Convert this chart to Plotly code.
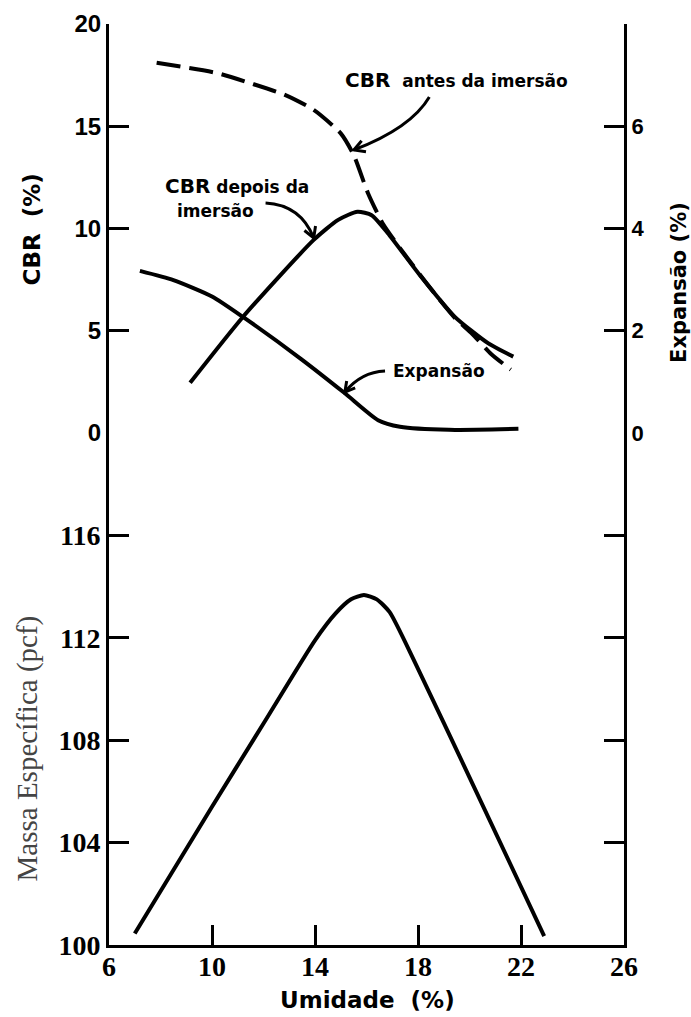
import plotly.graph_objects as go

# ---------------- data ----------------
x_ticks = [6, 10, 14, 18, 22, 26]
x_top_ticks = [10, 14, 18, 22]
cbr_ticks = [0, 5, 10, 15, 20]
exp_ticks = [0, 2, 4, 6]
dens_ticks = [100, 104, 108, 112, 116]

# Massa específica (pcf) vs umidade (%)
x_dens = [7.0, 10.0, 12.0, 14.0, 14.8, 15.4, 15.9, 16.4, 16.9, 17.9, 20.0, 22.9]
dens = [100.45, 105.4, 108.65, 111.9, 112.95, 113.5, 113.67, 113.5, 113.0, 111.0, 106.55, 100.35]

# CBR depois da imersão
x_depois = [9.15, 11.2, 13.95, 14.9, 15.65, 16.2, 16.83, 18.12, 19.42, 20.72, 21.7]
cbr_depois = [2.45, 5.67, 9.44, 10.42, 10.82, 10.65, 9.77, 7.64, 5.69, 4.39, 3.73]

# CBR antes da imersão (dashed)
x_antes = [7.85, 10.2, 11.5, 12.8, 13.95, 15.0, 15.5, 16.05, 16.65, 17.5, 18.5, 19.45, 20.1, 20.85, 21.6]
cbr_antes = [18.1, 17.6, 17.1, 16.55, 15.8, 14.65, 13.6, 11.75, 10.2, 8.7, 7.05, 5.6, 4.85, 3.85, 3.1]

# Expansão (%)
x_exp = [7.2, 8.5, 10.0, 11.2, 13.45, 15.15, 16.45, 17.3, 19.2, 21.9]
expansao = [3.17, 2.99, 2.67, 2.27, 1.45, 0.78, 0.25, 0.12, 0.06, 0.08]

# ---------------- figure ----------------
LW = 4
SM = 0.6
fig = go.Figure()
fig.add_trace(go.Scatter(x=x_dens, y=dens, mode="lines", xaxis="x", yaxis="y",
                         line=dict(color="black", width=LW, shape="spline", smoothing=SM)))
fig.add_trace(go.Scatter(x=x_depois, y=cbr_depois, mode="lines", xaxis="x", yaxis="y2",
                         line=dict(color="black", width=LW, shape="spline", smoothing=SM)))
fig.add_trace(go.Scatter(x=x_antes, y=cbr_antes, mode="lines", xaxis="x", yaxis="y2",
                         line=dict(color="black", width=LW, shape="spline", smoothing=SM,
                                   dash="24px,9px")))
fig.add_trace(go.Scatter(x=x_exp, y=expansao, mode="lines", xaxis="x", yaxis="y3",
                         line=dict(color="black", width=LW, shape="spline", smoothing=SM)))

split = 0.556
axis_common = dict(showgrid=False, zeroline=False, showline=True, linecolor="black",
                   linewidth=3, ticks="inside", ticklen=20, tickwidth=3, tickcolor="black",
                   automargin=False)

serif_tick = dict(family="Liberation Serif", size=28, color="black", weight="bold")
sans_tick = dict(family="Liberation Sans", size=24, color="black", weight="bold")

fig.update_layout(
    width=691, height=1017,
    margin=dict(l=109, r=67, t=24, b=72, autoexpand=False),
    paper_bgcolor="white", plot_bgcolor="white",
    showlegend=False,
    xaxis=dict(domain=[0, 1], anchor="y", range=[6, 26], tickvals=x_ticks,
               tickfont=serif_tick, ticklabelstandoff=-6, **axis_common),
    xaxis2=dict(overlaying="x", anchor="y2", side="top", range=[6, 26],
                tickvals=x_top_ticks, showticklabels=False, **axis_common),
    yaxis=dict(domain=[0, split], anchor="x", range=[100, 120], tickvals=dens_ticks,
               mirror="ticks", tickfont=serif_tick, **axis_common),
    yaxis2=dict(domain=[split, 1], anchor="x", range=[0, 20], tickvals=cbr_ticks,
                tickfont=sans_tick, **axis_common),
    yaxis3=dict(overlaying="y2", anchor="x", side="right", range=[0, 8],
                tickvals=exp_ticks, tickfont=dict(family="Liberation Sans", size=22,
                                                  color="black", weight="bold"),
                **axis_common),
)

lab_font = dict(family="DejaVu Sans", size=17, color="black", weight="bold")
title_font = dict(family="DejaVu Sans", size=23, color="black", weight="bold")

annotations = [
    dict(x=19.49, y=17.26, xref="x", yref="y2", xanchor="center", yanchor="middle",
         text="<span style='font-size:20px'>CBR</span>&nbsp; antes da imersão",
         showarrow=False, font=lab_font),
    dict(x=8.11, y=12.08, xref="x", yref="y2", xanchor="left", yanchor="middle",
         text="<span style='font-size:20px'>CBR</span> depois da",
         showarrow=False, font=lab_font),
    dict(x=8.57, y=10.86, xref="x", yref="y2", xanchor="left", yanchor="middle",
         text="imersão", showarrow=False, font=lab_font),
    dict(x=16.96, y=3.03, xref="x", yref="y2", xanchor="left", yanchor="middle",
         text="Expansão", showarrow=False, font=lab_font),
    # axis titles
    dict(x=-0.1495, y=0.777, xref="paper", yref="paper", xanchor="center", yanchor="middle",
         text="CBR&nbsp; (%)", textangle=-90, showarrow=False, font=title_font),
    dict(x=-0.158, y=0.213, xref="paper", yref="paper", xanchor="center", yanchor="middle",
         text="Massa Específica (pcf)", textangle=-90, showarrow=False,
         font=dict(family="Liberation Serif", size=29, color="#444444")),
    dict(x=1.107, y=0.719, xref="paper", yref="paper", xanchor="center", yanchor="middle",
         text="Expansão (%)", textangle=-90, showarrow=False,
         font=dict(family="DejaVu Sans", size=21, color="black", weight="bold")),
    dict(x=0.501, y=-0.06, xref="paper", yref="paper", xanchor="center", yanchor="middle",
         text="Umidade&nbsp; (%)", showarrow=False, font=title_font),
]
fig.update_layout(annotations=annotations)

# curved arrows (data coordinates on x / y2)
arrows = [
    # (start, control, end, wing1, wing2)
    ((18.44, 16.43), (17.73, 14.91), (15.51, 13.84), (15.98, 13.75), (15.81, 14.29)),
    ((12.08, 11.25), (13.45, 11.15), (13.95, 9.54), (14.02, 10.12), (13.59, 9.90)),
    ((16.72, 3.03), (15.79, 2.98), (15.16, 2.00), (15.56, 2.20), (15.23, 2.54)),
]
shapes = []
for p0, c, p1, w1, w2 in arrows:
    shapes.append(dict(type="path", xref="x", yref="y2",
                       path=f"M {p0[0]},{p0[1]} Q {c[0]},{c[1]} {p1[0]},{p1[1]}",
                       line=dict(color="black", width=3)))
    shapes.append(dict(type="path", xref="x", yref="y2",
                       path=f"M {w1[0]},{w1[1]} L {p1[0]},{p1[1]} L {w2[0]},{w2[1]}",
                       line=dict(color="black", width=3)))
fig.update_layout(shapes=shapes)

fig.write_html("out.html", config={"displayModeBar": False},
               post_script="document.body.style.margin='0';document.body.style.overflow='hidden';")
